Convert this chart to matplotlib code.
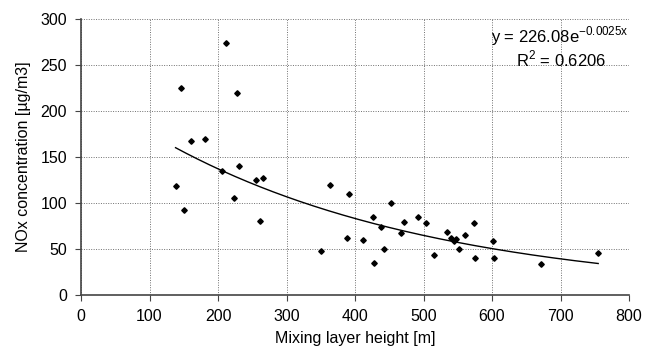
import numpy as np
import matplotlib.pyplot as plt

plt.rcParams['font.family'] = ['Liberation Sans', 'DejaVu Sans']

height = [138, 146, 151, 160, 181, 206, 211, 223, 228, 231, 256, 261, 265,
          351, 364, 388, 391, 411, 426, 427, 438, 443, 452, 467, 472, 492,
          503, 515, 535, 540, 545, 548, 552, 561, 573, 575, 602, 603, 672, 755]
nox = [118, 225, 92, 167, 170, 135, 274, 105, 220, 140, 125, 80, 127,
       48, 120, 62, 110, 60, 85, 35, 74, 50, 100, 67, 79, 85,
       78, 44, 69, 62, 59, 61, 50, 65, 78, 40, 59, 40, 34, 46]

# trend line from the chart's equation
a, b = 226.08, -0.0025
r2 = 0.6206

fig = plt.figure(figsize=(6.54, 3.61), dpi=100)
ax = fig.add_axes([0.1239, 0.1828, 0.8379, 0.7646])

ax.plot(height, nox, 'D', color='black', markersize=2.8, zorder=3)
xs = np.linspace(min(height), max(height), 200)
ax.plot(xs, a * np.exp(b * xs), color='black', linewidth=1.0, zorder=2)

ax.set_xlim(0, 800)
ax.set_ylim(0, 300)
ax.set_xticks(range(0, 801, 100))
ax.set_yticks(range(0, 301, 50))
ax.grid(True, color='#707070', linestyle=(0, (1, 1.5)), linewidth=0.7)
ax.set_axisbelow(True)

for s in ['top', 'right']:
    ax.spines[s].set_visible(False)
for s in ['left', 'bottom']:
    ax.spines[s].set_color('#444444')
    ax.spines[s].set_linewidth(1.2)
ax.tick_params(direction='out', length=4, color='#444444', labelsize=11.5, pad=6)

ax.set_xlabel('Mixing layer height [m]', fontsize=11.5, labelpad=5)
ax.set_ylabel('NOx concentration [µg/m3]', fontsize=11.5, labelpad=7)

ax.text(0.874, 0.937, 'y = 226.08e$^{\\mathregular{-0.0025x}}$', transform=ax.transAxes,
        ha='center', va='center', fontsize=12)
ax.text(0.877, 0.855, 'R$^{\\mathregular{2}}$ = %.4f' % r2, transform=ax.transAxes,
        ha='center', va='center', fontsize=12)

fig.savefig('out.png', dpi=100, facecolor='white')
